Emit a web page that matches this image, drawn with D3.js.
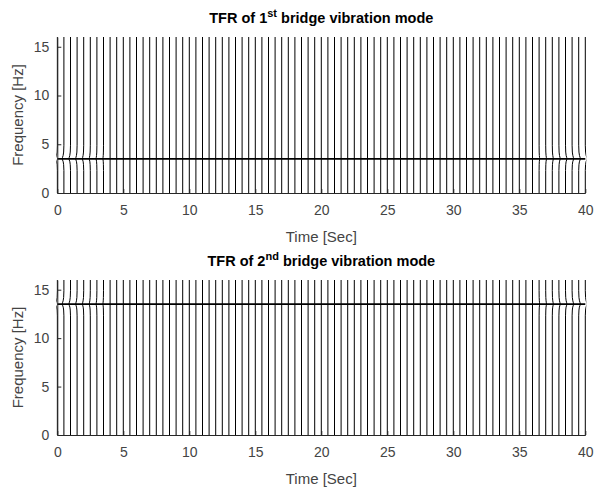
<!DOCTYPE html>
<html>
<head>
<meta charset="utf-8">
<script src="https://cdn.jsdelivr.net/npm/d3@7"></script>
<style>
  body { margin: 0; background: #fff; }
  text { font-family: "Liberation Sans", Arial, sans-serif; }
</style>
</head>
<body>
<script>
// time instants of the plotted TFR columns [s]
var times = [0, 0.5, 1, 1.5, 2, 2.5, 3, 3.5, 4, 4.5, 5, 5.5, 6, 6.5, 7, 7.5, 8, 8.5, 9, 9.5,
  10, 10.5, 11, 11.5, 12, 12.5, 13, 13.5, 14, 14.5, 15, 15.5, 16, 16.5, 17, 17.5, 18, 18.5, 19, 19.5,
  20, 20.5, 21, 21.5, 22, 22.5, 23, 23.5, 24, 24.5, 25, 25.5, 26, 26.5, 27, 27.5, 28, 28.5, 29, 29.5,
  30, 30.5, 31, 31.5, 32, 32.5, 33, 33.5, 34, 34.5, 35, 35.5, 36, 36.5, 37, 37.5, 38, 38.5, 39, 39.5, 40];
// ridge frequency of each mode [Hz]
var ridgeFreqs = [3.5, 13.5];
var titleNums = ["1", "2"];
var titleSups = ["st", "nd"];
// edge distortion of the columns near the ridge (time shift in s), left edge t=0..3.5, right edge t=40..36.5
var bendLeft = [0.14, 0.13, 0.12, 0.11, 0.1, 0.08, 0.06, 0.04];
var bendRight = [0.14, 0.13, 0.12, 0.11, 0.1, 0.08, 0.06, 0.04];
// shape of the distortion along frequency (offset from ridge in Hz, weight)
var bendDf = [-1.2, -0.6, -0.3, -0.1, 0, 0.15, 0.35, 0.7, 1.4];
var bendW = [0, 0.15, 0.4, 0.8, 1, 0.8, 0.45, 0.15, 0];
var xTicks = [0, 5, 10, 15, 20, 25, 30, 35, 40];
var yTicks = [0, 5, 10, 15];

var width = 595, height = 488;
var axColor = "#262626";
var tickColor = "#444";

var svg = d3.select("body").append("svg")
    .attr("width", width)
    .attr("height", height);

var panels = [
    {top: 37, bottom: 193},
    {top: 280, bottom: 435}
];

var x = d3.scaleLinear().domain([0, 40]).range([57.3, 585.3]);

panels.forEach((p, i) => {
    var y = d3.scaleLinear().domain([0, 16]).range([p.bottom, p.top]);
    var g = svg.append("g");

    var clipId = "clip" + i;
    g.append("clipPath").attr("id", clipId)
      .append("rect")
        .attr("x", x(0) - 1).attr("y", y(16))
        .attr("width", x(40) - x(0) + 2).attr("height", y(0) - y(16));

    var line = d3.line()
        .x((d) => x(d[0]))
        .y((d) => y(d[1]));

    var plot = g.append("g").attr("clip-path", "url(#" + clipId + ")");

    times.forEach((t, k) => {
        var amp = 0;
        if (k < bendLeft.length) amp = -bendLeft[k];
        var kr = times.length - 1 - k;
        if (kr < bendRight.length) amp = bendRight[kr];
        var pts = [[t, 0]];
        if (amp !== 0) {
            bendDf.forEach((df, j) => {
                pts.push([t + amp * bendW[j], ridgeFreqs[i] + df]);
            });
        }
        pts.push([t, 16]);
        plot.append("path")
            .attr("d", line(pts))
            .attr("fill", "none")
            .attr("stroke", "#000")
            .attr("stroke-width", 1);
    });

    plot.append("line")
        .attr("x1", x(0)).attr("x2", x(40))
        .attr("y1", y(ridgeFreqs[i])).attr("y2", y(ridgeFreqs[i]))
        .attr("stroke", "#000")
        .attr("stroke-width", 1.8);

    var bottomAxis = d3.axisBottom(x).tickValues(xTicks).tickSizeInner(-4).tickSizeOuter(0).tickPadding(12);
    var ax = g.append("g")
        .attr("transform", "translate(0," + y(0) + ")")
        .call(bottomAxis);

    var leftAxis = d3.axisLeft(y).tickValues(yTicks).tickSizeInner(-4).tickSizeOuter(0).tickPadding(8);
    var ay = g.append("g")
        .attr("transform", "translate(" + x(0) + ",0)")
        .call(leftAxis);

    [ax, ay].forEach((a) => {
        a.select(".domain").attr("stroke", axColor);
        a.selectAll(".tick line").attr("stroke", axColor);
        a.selectAll("text")
            .attr("fill", tickColor)
            .attr("font-size", "14px")
            .attr("font-family", "'Liberation Sans', Arial, sans-serif");
    });

    g.append("text")
        .attr("x", (x(0) + x(40)) / 2)
        .attr("y", p.bottom + 49)
        .attr("text-anchor", "middle")
        .attr("font-size", "15px")
        .attr("fill", tickColor)
        .text("Time [Sec]");

    g.append("text")
        .attr("transform", "translate(23," + (p.top + p.bottom) / 2 + ") rotate(-90)")
        .attr("text-anchor", "middle")
        .attr("font-size", "15px")
        .attr("fill", tickColor)
        .text("Frequency [Hz]");

    var title = g.append("text")
        .attr("x", (x(0) + x(40)) / 2)
        .attr("y", p.top - 14)
        .attr("text-anchor", "middle")
        .attr("font-size", "14.5px")
        .attr("font-weight", "bold")
        .attr("fill", "#000");
    title.append("tspan").text("TFR of " + titleNums[i]);
    title.append("tspan").attr("dy", -6).attr("font-size", "11px").text(titleSups[i]);
    title.append("tspan").attr("dy", 6).text(" bridge vibration mode");
});
</script>
</body>
</html>
